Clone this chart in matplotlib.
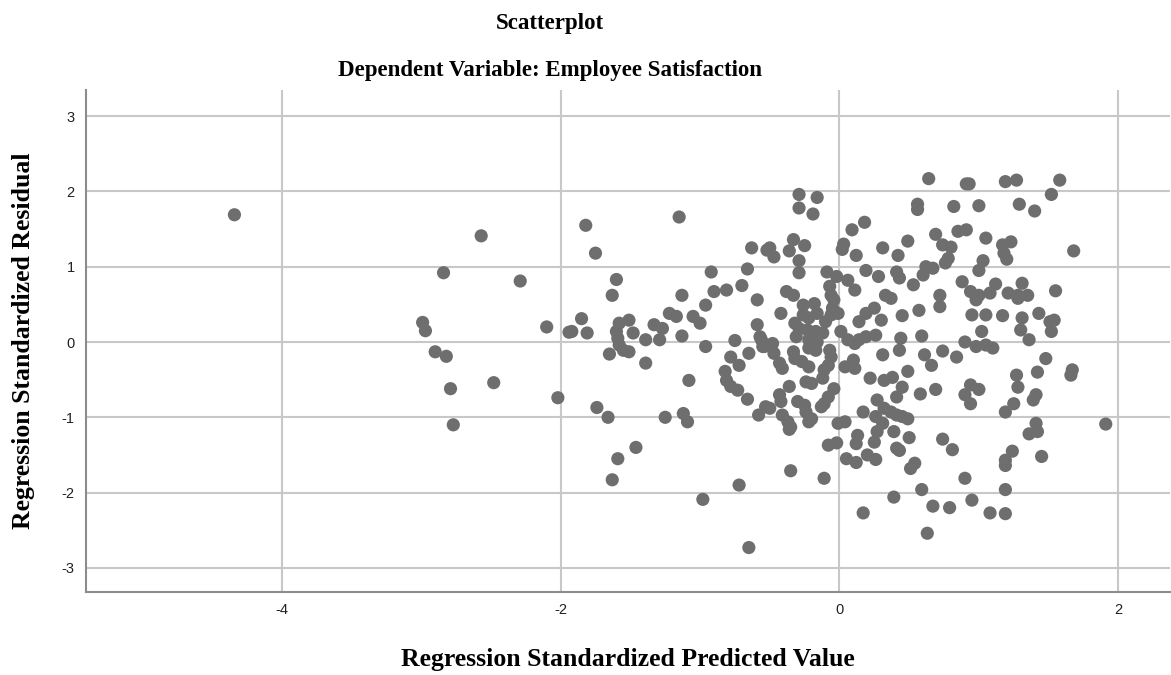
import matplotlib.pyplot as plt

# Regression standardized predicted value (x) and residual (y)
pred = [
    -4.34, -2.57, -2.84, -2.29, -2.99, -2.97, -2.10, -1.94, -2.90, -2.82,
    -2.48, -2.79, -2.02, -2.77,
    -1.82, -1.15, -1.75, -1.60, -1.63, -0.92, -0.63, -0.66, -0.70, -0.52,
    -1.13, -0.90, -0.81, -0.59,
    0.64, 0.91, -0.29, -0.16, -0.29, -0.19, 0.56, 0.56, 0.82, 0.18,
    0.09, 0.69, 0.85, 0.91, -0.50, -0.47, -0.33, -0.36, -0.25, -0.29,
    -0.29, 0.03, 0.02, 0.12, 0.31, 0.49, 0.42, 0.74, 0.80, 0.78,
    0.76, 0.62, 0.67, -0.09, 0.19, 0.28, 0.41, 0.43, 0.53, 0.60,
    0.88, -0.02, 0.06, 0.11, -0.38, -0.33, -0.07, -0.06, 0.33, 0.72,
    0.93, 1.19, 1.27, 1.58, 1.52, 1.00, 1.29, 1.40, 1.05, 1.17,
    1.23, 1.18, 1.20, 1.68, 1.03, 1.00, 0.94, 1.00, 1.08, 1.12,
    1.31, 1.21, 1.28, 1.35, 1.55,
    -0.96, -1.85, -1.92, -1.81, -1.58, -1.51, -1.60, -1.59, -1.58, -1.55,
    -1.51, -1.65, -1.48, -1.39, -1.33, -1.27, -1.39, -1.29, -1.22, -1.17,
    -1.13, -1.05, -1.00, -0.96, -0.75, -0.59, -0.57, -0.55, -0.78, -0.72,
    -0.65, -0.82, -0.81, -0.78, -0.73, -0.66, -1.08, -1.74, -1.66, -1.25,
    -1.12, -1.09, -0.58, -0.53,
    -0.26, -0.18, -0.42, -0.04, -0.05, -0.06, -0.01, -0.26, -0.22, -0.16,
    -0.10, -0.32, -0.29, -0.23, -0.17, -0.12, -0.31, -0.22, -0.16, -0.56,
    -0.54, -0.48, -0.47, -0.43, -0.41, -0.33, -0.32, -0.27, -0.22, -0.22,
    -0.17, -0.07, -0.06, -0.08, -0.11, -0.12, 0.01, 0.06, 0.11, 0.14,
    0.19, 0.26, 0.14, 0.19, 0.25, 0.30, 0.37, 0.45, 0.57, 0.72,
    0.59, 0.44, 0.43, 0.31, 0.61, 0.66, 0.74, 0.84, 0.90, 0.04,
    0.10, 0.11, 0.22, 0.32, 0.38, 0.49, 0.45, 0.41, 0.58, 0.69,
    0.90, -0.24, -0.20, -0.36, -0.04, -0.08, -0.11, -0.13, -0.43, -0.42,
    -0.30, -0.25, -0.24, -0.50, -0.41, -0.37, -0.35, -0.20, 0.17, 0.27,
    0.32, 0.37, 0.41, 0.45, 0.49, 0.26, 0.31, -0.01, 0.04,
    0.98, 1.28, 0.95, 1.05, 1.17, 1.31, 1.30, 1.36, 1.43, 1.51,
    1.54, 1.52, 1.02, 0.98, 1.05, 1.10, 1.48, 1.42, 1.27, 1.28,
    1.67, 1.66, 0.94, 1.00, 0.94, 1.41, 1.39, 1.25, 1.19, 1.41,
    1.91,
    -1.46, -1.59, -1.63, -0.98, -0.72, -0.65,
    -0.36, -0.22, -0.08, -0.02, 0.13, 0.12, 0.05, 0.12, 0.20, 0.26,
    0.25, 0.27, 0.39, 0.41, 0.43, 0.50, 0.54, 0.51, 0.74, 0.81,
    -0.35, -0.11, 0.90, 0.59, 0.39, 0.17, 0.67, 0.79, 0.63, 0.95,
    1.36, 1.42, 1.24, 1.19, 1.19, 1.45, 1.19, 1.08, 1.19,
]
resid = [
    1.69, 1.41, 0.92, 0.81, 0.26, 0.15, 0.20, 0.13, -0.13, -0.19,
    -0.54, -0.62, -0.74, -1.10,
    1.55, 1.66, 1.18, 0.83, 0.62, 0.93, 1.25, 0.97, 0.75, 1.22,
    0.62, 0.67, 0.69, 0.56,
    2.17, 2.10, 1.96, 1.92, 1.78, 1.70, 1.83, 1.76, 1.80, 1.59,
    1.49, 1.43, 1.47, 1.49, 1.25, 1.13, 1.36, 1.21, 1.28, 1.08,
    0.92, 1.30, 1.23, 1.15, 1.25, 1.34, 1.15, 1.29, 1.26, 1.11,
    1.05, 1.00, 0.98, 0.93, 0.95, 0.87, 0.93, 0.85, 0.76, 0.89,
    0.80, 0.87, 0.82, 0.69, 0.67, 0.62, 0.74, 0.62, 0.62, 0.62,
    2.10, 2.13, 2.15, 2.15, 1.96, 1.81, 1.83, 1.74, 1.38, 1.29,
    1.33, 1.18, 1.10, 1.21, 1.08, 0.95, 0.67, 0.62, 0.65, 0.77,
    0.78, 0.65, 0.62, 0.62, 0.68,
    0.49, 0.31, 0.14, 0.12, 0.25, 0.29, 0.14, 0.05, -0.04, -0.11,
    -0.13, -0.16, 0.12, -0.28, 0.23, 0.18, 0.03, 0.03, 0.38, 0.34,
    0.08, 0.34, 0.25, -0.06, 0.02, 0.23, 0.07, -0.06, -0.20, -0.31,
    -0.15, -0.39, -0.51, -0.59, -0.64, -0.76, -0.51, -0.87, -1.00, -1.00,
    -0.95, -1.06, -0.97, -0.86,
    0.49, 0.51, 0.38, 0.56, 0.45, 0.36, 0.38, 0.36, 0.32, 0.38,
    0.27, 0.25, 0.18, 0.16, 0.14, 0.12, 0.07, 0.03, 0.00, 0.03,
    -0.06, -0.02, -0.15, -0.28, -0.35, -0.13, -0.22, -0.26, -0.33, -0.08,
    -0.11, -0.11, -0.20, -0.31, -0.37, -0.48, 0.14, 0.03, -0.02, 0.03,
    0.07, 0.09, 0.27, 0.38, 0.45, 0.29, 0.58, 0.35, 0.42, 0.47,
    0.08, 0.05, -0.11, -0.17, -0.17, -0.31, -0.12, -0.20, 0.00, -0.33,
    -0.24, -0.35, -0.48, -0.51, -0.47, -0.39, -0.60, -0.73, -0.69, -0.63,
    -0.70, -0.53, -0.55, -0.59, -0.62, -0.73, -0.82, -0.86, -0.70, -0.79,
    -0.79, -0.84, -0.93, -0.88, -0.97, -1.06, -1.13, -1.02, -0.93, -0.77,
    -0.88, -0.93, -0.97, -0.99, -1.02, -0.99, -1.08, -1.08, -1.06,
    0.56, 0.58, 0.36, 0.36, 0.35, 0.32, 0.16, 0.03, 0.38, 0.27,
    0.29, 0.14, 0.14, -0.06, -0.04, -0.08, -0.22, -0.40, -0.44, -0.60,
    -0.37, -0.44, -0.57, -0.63, -0.82, -0.70, -0.77, -0.82, -0.93, -1.08,
    -1.09,
    -1.40, -1.55, -1.83, -2.09, -1.90, -2.73,
    -1.16, -1.06, -1.37, -1.34, -1.24, -1.35, -1.55, -1.60, -1.50, -1.56,
    -1.33, -1.19, -1.19, -1.41, -1.44, -1.27, -1.61, -1.68, -1.29, -1.43,
    -1.71, -1.81, -1.81, -1.96, -2.06, -2.27, -2.18, -2.20, -2.54, -2.10,
    -1.22, -1.19, -1.45, -1.57, -1.64, -1.52, -1.96, -2.27, -2.28,
]

x_ticks = [-4, -2, 0, 2]
y_ticks = [-3, -2, -1, 0, 1, 2, 3]

serif = ["Liberation Serif", "DejaVu Serif"]
plt.rcParams["axes.unicode_minus"] = False  # SPSS prints a plain hyphen

fig = plt.figure(figsize=(11.71, 6.75), dpi=100)
ax = fig.add_axes([0.0734, 0.123, 0.926, 0.744])

ax.scatter(pred, resid, s=90, color="#6e6e6e", edgecolors="none", zorder=3)

ax.set_xlim(-5.405, 2.373)
ax.set_ylim(-3.32, 3.35)
ax.set_xticks(x_ticks)
ax.set_yticks(y_ticks)
ax.grid(True, color="#c8c8c8", linewidth=1.5, zorder=0)
ax.tick_params(length=0, pad=8, labelsize=10.5, colors="#222222")
for lab in ax.get_xticklabels() + ax.get_yticklabels():
    lab.set_family(["Liberation Sans", "DejaVu Sans"])

for side in ["top", "right"]:
    ax.spines[side].set_visible(False)
for side in ["left", "bottom"]:
    ax.spines[side].set_color("#8c8c8c")
    ax.spines[side].set_linewidth(1.5)

ax.set_xlabel("Regression Standardized Predicted Value", family=serif,
              fontsize=18.5, fontweight="bold", labelpad=22)
ax.set_ylabel("Regression Standardized Residual", family=serif,
              fontsize=18.5, fontweight="bold", labelpad=19)

fig.text(0.47, 0.965, "Scatterplot", family=serif, fontsize=16.5,
         fontweight="bold", ha="center", va="center")
fig.text(0.47, 0.896, "Dependent Variable: Employee Satisfaction", family=serif,
         fontsize=16.5, fontweight="bold", ha="center", va="center")

fig.savefig("out.png", dpi=100, facecolor="white")
